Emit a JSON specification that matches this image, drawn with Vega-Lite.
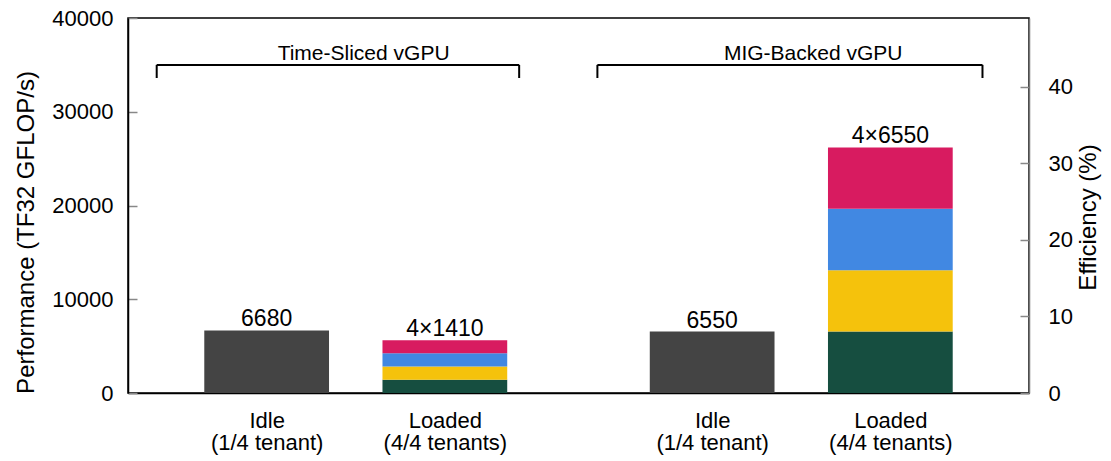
{
  "$schema": "https://vega.github.io/schema/vega-lite/v6.json",
  "width": 901,
  "height": 375,
  "autosize": "none",
  "padding": {"left": 128, "top": 18, "right": 82, "bottom": 68},
  "config": {
    "font": "Liberation Sans",
    "view": {"stroke": "black", "strokeWidth": 1.5}
  },
  "datasets": {
    "bars": [
      {"group": "Time-Sliced vGPU", "x": 0.65, "x2": 1.35, "tenant": "Idle", "order": 0, "v": 6680},
      {"group": "Time-Sliced vGPU", "x": 1.65, "x2": 2.35, "tenant": "T1", "order": 1, "v": 1410},
      {"group": "Time-Sliced vGPU", "x": 1.65, "x2": 2.35, "tenant": "T2", "order": 2, "v": 1410},
      {"group": "Time-Sliced vGPU", "x": 1.65, "x2": 2.35, "tenant": "T3", "order": 3, "v": 1410},
      {"group": "Time-Sliced vGPU", "x": 1.65, "x2": 2.35, "tenant": "T4", "order": 4, "v": 1410},
      {"group": "MIG-Backed vGPU", "x": 3.15, "x2": 3.85, "tenant": "Idle", "order": 0, "v": 6550},
      {"group": "MIG-Backed vGPU", "x": 4.15, "x2": 4.85, "tenant": "T1", "order": 1, "v": 6550},
      {"group": "MIG-Backed vGPU", "x": 4.15, "x2": 4.85, "tenant": "T2", "order": 2, "v": 6550},
      {"group": "MIG-Backed vGPU", "x": 4.15, "x2": 4.85, "tenant": "T3", "order": 3, "v": 6550},
      {"group": "MIG-Backed vGPU", "x": 4.15, "x2": 4.85, "tenant": "T4", "order": 4, "v": 6550}
    ],
    "totals": [
      {"x": 1, "total": 6680, "label": "6680", "eff": 8.2},
      {"x": 2, "total": 5640, "label": "4×1410", "eff": 6.9},
      {"x": 3.5, "total": 6550, "label": "6550", "eff": 8.0},
      {"x": 4.5, "total": 26200, "label": "4×6550", "eff": 32.1}
    ],
    "brackets": [
      {"x": 0.383, "x2": 2.417, "y": 35000, "y2": 35000},
      {"x": 0.383, "x2": 0.383, "y": 35000, "y2": 33600},
      {"x": 2.417, "x2": 2.417, "y": 35000, "y2": 33600},
      {"x": 2.856, "x2": 5.017, "y": 35000, "y2": 35000},
      {"x": 2.856, "x2": 2.856, "y": 35000, "y2": 33600},
      {"x": 5.017, "x2": 5.017, "y": 35000, "y2": 33600}
    ],
    "groups": [
      {"x": 1.544, "y": 35000, "label": "Time-Sliced vGPU"},
      {"x": 4.067, "y": 35000, "label": "MIG-Backed vGPU"}
    ]
  },
  "layer": [
    {
      "layer": [
        {
          "data": {"name": "bars"},
          "mark": {"type": "bar", "orient": "vertical"},
          "encoding": {
            "x": {
              "field": "x",
              "type": "quantitative",
              "scale": {"domain": [0.25, 5.25], "nice": false, "zero": false},
              "axis": {
                "values": [1, 2, 3.5, 4.5],
                "labelExpr": "datum.value == 1 || datum.value == 3.5 ? ['Idle', '(1/4 tenant)'] : ['Loaded', '(4/4 tenants)']",
                "ticks": false,
                "grid": false,
                "title": null,
                "domainColor": "black",
                "domainWidth": 1.5,
                "labelFontSize": 22,
                "labelColor": "black",
                "labelPadding": 17,
                "labelLineHeight": 22.5,
                "labelBaseline": "top"
              }
            },
            "x2": {"field": "x2"},
            "y": {
              "field": "v",
              "type": "quantitative",
              "stack": "zero",
              "scale": {"domain": [0, 40000], "nice": false},
              "axis": {
                "values": [0, 10000, 20000, 30000, 40000],
                "format": "d",
                "grid": false,
                "title": "Performance (TF32 GFLOP/s)",
                "titleFontSize": 24,
                "titleFontWeight": "normal",
                "titleColor": "black",
                "titleAngle": -90,
                "titleAlign": "center",
                "titleBaseline": "alphabetic",
                "titleX": -95,
                "titleY": 214,
                "domainColor": "black",
                "domainWidth": 1.5,
                "tickColor": "#888888",
                "tickSize": -9,
                "tickWidth": 1.5,
                "labelFontSize": 22,
                "labelColor": "black",
                "labelPadding": 24
              }
            },
            "color": {
              "field": "tenant",
              "type": "nominal",
              "scale": {
                "domain": ["Idle", "T1", "T2", "T3", "T4"],
                "range": ["#444444", "#164E40", "#F5C20C", "#4188E2", "#D81B60"]
              },
              "legend": null
            },
            "order": {"field": "order", "type": "quantitative"}
          }
        },
        {
          "data": {"name": "totals"},
          "mark": {"type": "text", "baseline": "alphabetic", "dy": -4, "fontSize": 23, "color": "black"},
          "encoding": {
            "x": {"field": "x", "type": "quantitative", "scale": {"domain": [0.25, 5.25], "nice": false, "zero": false}},
            "y": {"field": "total", "type": "quantitative", "scale": {"domain": [0, 40000], "nice": false}},
            "text": {"field": "label"}
          }
        },
        {
          "data": {"name": "brackets"},
          "mark": {"type": "rule", "color": "black", "strokeWidth": 2},
          "encoding": {
            "x": {"field": "x", "type": "quantitative", "scale": {"domain": [0.25, 5.25], "nice": false, "zero": false}},
            "x2": {"field": "x2"},
            "y": {"field": "y", "type": "quantitative", "scale": {"domain": [0, 40000], "nice": false}},
            "y2": {"field": "y2"}
          }
        },
        {
          "data": {"name": "groups"},
          "mark": {"type": "text", "baseline": "alphabetic", "dy": -5, "fontSize": 21, "color": "black"},
          "encoding": {
            "x": {"field": "x", "type": "quantitative", "scale": {"domain": [0.25, 5.25], "nice": false, "zero": false}},
            "y": {"field": "y", "type": "quantitative", "scale": {"domain": [0, 40000], "nice": false}},
            "text": {"field": "label"}
          }
        }
      ]
    },
    {
      "data": {"name": "totals"},
      "mark": {"type": "point", "opacity": 0},
      "encoding": {
        "x": {"field": "x", "type": "quantitative", "scale": {"domain": [0.25, 5.25], "nice": false, "zero": false}},
        "y": {
          "field": "eff",
          "type": "quantitative",
          "scale": {"domain": [0, 49], "nice": false},
          "axis": {
            "orient": "right",
            "values": [0, 10, 20, 30, 40],
            "grid": false,
            "title": "Efficiency (%)",
            "titleFontSize": 24,
            "titleFontWeight": "normal",
            "titleColor": "black",
            "titleAngle": -90,
            "titleAlign": "center",
            "titleBaseline": "alphabetic",
            "titleX": 66,
            "titleY": 199,
            "domainColor": "#777777",
            "domainWidth": 1.5,
            "tickColor": "#888888",
            "tickSize": -9,
            "tickWidth": 1.5,
            "labelFontSize": 22,
            "labelColor": "black",
            "labelPadding": 28
          }
        }
      }
    }
  ],
  "resolve": {"scale": {"y": "independent"}}
}
